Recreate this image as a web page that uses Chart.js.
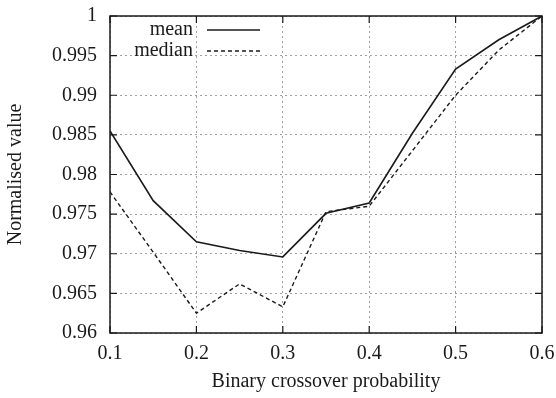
<!DOCTYPE html>
<html>
<head>
<meta charset="utf-8">
<script src="https://cdn.jsdelivr.net/npm/chart.js@4.4.0/dist/chart.umd.min.js"></script>
<style>
  html, body { margin: 0; padding: 0; background: #fff; }
  #wrap { width: 556px; height: 398px; }
</style>
</head>
<body>
<div id="wrap"><canvas id="chart" width="556" height="398"></canvas></div>
<script>
// 数据：横轴为交叉概率
const probs = [0.1, 0.15, 0.2, 0.25, 0.3, 0.35, 0.4, 0.45, 0.5, 0.55, 0.6];
const meanVals = [0.9855, 0.9767, 0.9715, 0.9704, 0.9696, 0.9751, 0.9764, 0.9852, 0.9933, 0.9970, 1.0];
const medianVals = [0.9778, 0.9702, 0.9625, 0.9662, 0.9633, 0.9753, 0.9760, 0.9830, 0.9900, 0.9957, 1.0];
const seriesLabels = ['mean', 'median'];
const xTitle = 'Binary crossover probability';
const yTitle = 'Normalised value';

const FONT = "'Liberation Serif', 'Times New Roman', serif";
const INK = '#1a1a1a';

function fmt(v) {
    return String(parseFloat(v.toFixed(3)));
}

// 画四周边框 + 向内的刻度线（gnuplot 风格）
const framePlugin = {
    id: 'frame',
    afterDatasetsDraw(chart) {
        const { ctx, chartArea: a, scales } = chart;
        const tl = 7;
        ctx.save();
        ctx.strokeStyle = INK;
        ctx.lineWidth = 1.5;
        ctx.strokeRect(a.left, a.top, a.right - a.left, a.bottom - a.top);
        ctx.lineWidth = 1.2;
        ctx.beginPath();
        scales.x.ticks.forEach(t => {
            const x = scales.x.getPixelForValue(t.value);
            ctx.moveTo(x, a.bottom); ctx.lineTo(x, a.bottom - tl);
            ctx.moveTo(x, a.top); ctx.lineTo(x, a.top + tl);
        });
        scales.y.ticks.forEach(t => {
            const y = scales.y.getPixelForValue(t.value);
            ctx.moveTo(a.left, y); ctx.lineTo(a.left + tl, y);
            ctx.moveTo(a.right, y); ctx.lineTo(a.right - tl, y);
        });
        ctx.stroke();
        ctx.restore();
    }
};

// 图例：文字右对齐，后面跟线段样例
const legendPlugin = {
    id: 'innerLegend',
    afterDraw(chart) {
        const { ctx, chartArea: a } = chart;
        ctx.save();
        ctx.font = '20px ' + FONT;
        ctx.fillStyle = INK;
        ctx.textAlign = 'right';
        ctx.textBaseline = 'middle';
        chart.data.datasets.forEach((ds, i) => {
            const y = a.top + 14 + i * 21;
            ctx.fillText(ds.label, a.left + 83, y);
            ctx.strokeStyle = ds.borderColor;
            ctx.lineWidth = ds.borderWidth;
            ctx.setLineDash(ds.borderDash || []);
            ctx.beginPath();
            ctx.moveTo(a.left + 97, y);
            ctx.lineTo(a.left + 150, y);
            ctx.stroke();
        });
        ctx.restore();
    }
};

const config = {
    type: 'line',
    data: {
        datasets: [
            {
                label: seriesLabels[0],
                data: probs.map((p, i) => ({ x: p, y: meanVals[i] })),
                borderColor: INK,
                borderWidth: 1.6,
                pointRadius: 0,
                tension: 0,
                fill: false
            },
            {
                label: seriesLabels[1],
                data: probs.map((p, i) => ({ x: p, y: medianVals[i] })),
                borderColor: INK,
                borderWidth: 1.4,
                borderDash: [4, 3],
                pointRadius: 0,
                tension: 0,
                fill: false
            }
        ]
    },
    options: {
        responsive: false,
        animation: false,
        layout: { padding: { top: 16, right: 14, left: 0, bottom: 0 } },
        plugins: {
            legend: { display: false },
            tooltip: { enabled: false }
        },
        scales: {
            x: {
                type: 'linear',
                min: 0.1,
                max: 0.6,
                afterFit(scale) {
                    scale.height = 65;
                    scale.paddingLeft = 0;
                    scale.paddingRight = 0;
                },
                afterBuildTicks(scale) {
                    scale.ticks = probs.filter((p, i) => i % 2 === 0).map(v => ({ value: v }));
                },
                border: { display: false, dash: [2, 3] },
                grid: { color: '#a0a0a0', lineWidth: 1, drawTicks: false },
                ticks: {
                    color: INK,
                    padding: 9,
                    font: { family: FONT, size: 20 },
                    callback: v => fmt(v)
                },
                title: {
                    display: true,
                    text: xTitle,
                    color: INK,
                    font: { family: FONT, size: 20 },
                    padding: { top: 0, bottom: 4 }
                }
            },
            y: {
                min: 0.96,
                max: 1,
                afterFit(scale) {
                    scale.width = 110;
                    scale.paddingTop = 0;
                    scale.paddingBottom = 0;
                },
                border: { display: false, dash: [2, 3] },
                grid: { color: '#a0a0a0', lineWidth: 1, drawTicks: false },
                ticks: {
                    stepSize: 0.005,
                    color: INK,
                    padding: 13,
                    font: { family: FONT, size: 20 },
                    callback: v => fmt(v)
                },
                title: {
                    display: true,
                    text: yTitle,
                    color: INK,
                    font: { family: FONT, size: 20 },
                    padding: { top: 4, bottom: 0 }
                }
            }
        }
    },
    plugins: [framePlugin, legendPlugin]
};

new Chart(document.getElementById('chart'), config);
</script>
</body>
</html>
